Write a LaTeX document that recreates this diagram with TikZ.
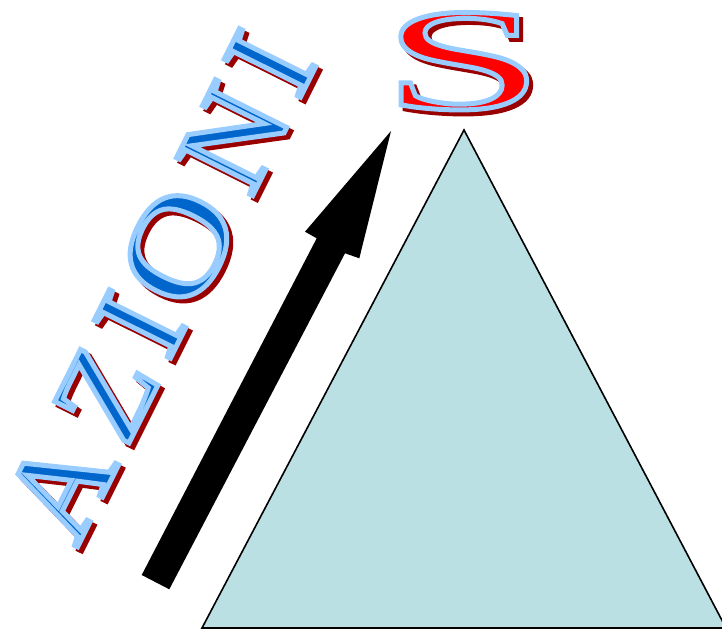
\documentclass[tikz,border=0pt]{standalone}
\usepackage{fontspec}
\setmainfont{Liberation Serif}
\newfontfamily\wafont{Liberation Serif}
\newfontfamily\wafontO[FakeStretch=1.15]{Liberation Serif}
\newfontfamily\wafontwide[FakeStretch=2.03]{Liberation Serif}
\definecolor{trifill}{RGB}{187,224,227}
\definecolor{wablue}{RGB}{0,102,204}
\definecolor{wared}{RGB}{255,0,0}
\definecolor{washadow}{RGB}{153,0,0}
% #1 fill colour, #2 stroke rgb (0-1 triple), #3 text
\newcommand\wordart[3]{{\color{#1}\special{pdf:literal #2 RG 2 Tr 5 w}#3\special{pdf:literal 0 Tr 0.4 w}}}
\tikzset{
  walet/.style={anchor=base, inner sep=0pt, outer sep=0pt, rotate=63.5,
    font=\wafont\fontsize{130}{130}\selectfont},
  waround/.style={walet, font=\wafontO\fontsize{135}{135}\selectfont},
  wabig/.style={anchor=base, inner sep=0pt, outer sep=0pt,
    font=\wafontwide\fontsize{145}{145}\selectfont},
}
\begin{document}
\begin{tikzpicture}[x=1pt,y=-1pt]
\useasboundingbox (0,0) rectangle (722,631);
% pyramid
\coordinate (apex) at (464,130);
\coordinate (bl) at (202,628);
\coordinate (br) at (726,628);
\filldraw[fill=trifill, draw=black, line width=1.6pt, line join=miter] (apex) -- (bl) -- (br) -- cycle;
% arrow
\coordinate (t1) at (141.7,575);
\coordinate (t2) at (169.3,589.3);
\coordinate (ir) at (345,253.3);
\coordinate (hr) at (359.3,258.3);
\coordinate (tip) at (391,131);
\coordinate (hl) at (305,231.7);
\coordinate (il) at (316.7,238.3);
\fill[black] (t1) -- (t2) -- (ir) -- (hr) -- (tip) -- (hl) -- (il) -- cycle;
% word art: shadows
\begin{scope}[shift={(4,4)}]
\node[walet] (sa1) at (98,506) {\wordart{washadow}{0.6 0 0}{A}};
\node[walet] (sa2) at (144,413) {\wordart{washadow}{0.6 0 0}{Z}};
\node[walet] (sa3) at (178,343) {\wordart{washadow}{0.6 0 0}{I}};
\node[waround] (sa4) at (218,266) {\wordart{washadow}{0.6 0 0}{O}};
\node[walet] (sa5) at (272,157) {\wordart{washadow}{0.6 0 0}{N}};
\node[walet] (sa6) at (308,82) {\wordart{washadow}{0.6 0 0}{I}};
\node[wabig] (ss) at (463,108.5) {\wordart{washadow}{0.6 0 0}{S}};
\end{scope}
% word art: letters
\node[walet] (a1) at (98,506) {\wordart{wablue}{0.6 0.8 1}{A}};
\node[walet] (a2) at (144,413) {\wordart{wablue}{0.6 0.8 1}{Z}};
\node[walet] (a3) at (178,343) {\wordart{wablue}{0.6 0.8 1}{I}};
\node[waround] (a4) at (218,266) {\wordart{wablue}{0.6 0.8 1}{O}};
\node[walet] (a5) at (272,157) {\wordart{wablue}{0.6 0.8 1}{N}};
\node[walet] (a6) at (308,82) {\wordart{wablue}{0.6 0.8 1}{I}};
\node[wabig] (s) at (463,108.5) {\wordart{wared}{0.6 0.8 1}{S}};
\end{tikzpicture}
\end{document}
